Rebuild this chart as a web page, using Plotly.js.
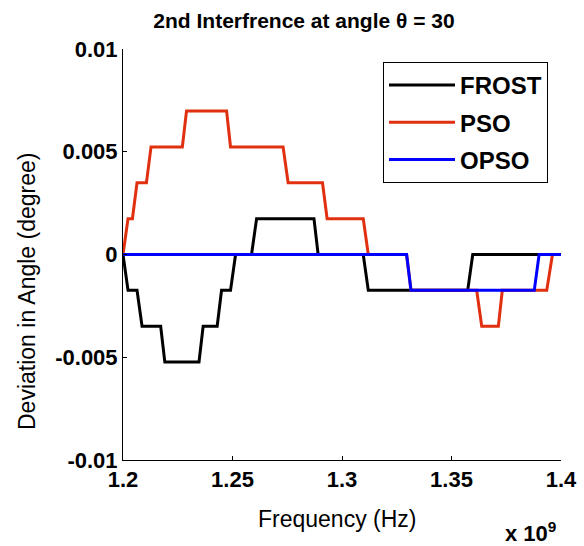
<!DOCTYPE html>
<html>
<head>
<meta charset="utf-8">
<script src="https://cdn.plot.ly/plotly-3.0.1.min.js"></script>
<style>html,body{margin:0;padding:0;background:#fff;}#chart{width:584px;height:546px;}</style>
</head>
<body>
<div id="chart"></div>
<script>
// ---- data (frequency in GHz, deviation in degrees) ----
var seriesNames = ['FROST', 'PSO', 'OPSO'];

var frostFreq = [1.2, 1.2023, 1.2064, 1.2087, 1.2172, 1.2191, 1.2347, 1.2366, 1.2430, 1.2450, 1.2491, 1.2514, 1.2587, 1.2610, 1.2872, 1.2891, 1.3097, 1.3120, 1.3574, 1.3597, 1.4];
var frostDev  = [0, -0.001745, -0.001745, -0.00349, -0.00349, -0.005236, -0.005236, -0.00349, -0.00349, -0.001745, -0.001745, 0, 0, 0.001745, 0.001745, 0, 0, -0.001745, -0.001745, 0, 0];

var psoFreq = [1.2, 1.2023, 1.2043, 1.2064, 1.2107, 1.2128, 1.2271, 1.2290, 1.2473, 1.2491, 1.2731, 1.2754, 1.2911, 1.2932, 1.3097, 1.3120, 1.3295, 1.3315, 1.3615, 1.3638, 1.3714, 1.3732, 1.3935, 1.3961, 1.4];
var psoDev  = [0, 0.001745, 0.001745, 0.00349, 0.00349, 0.005236, 0.005236, 0.006981, 0.006981, 0.005236, 0.005236, 0.00349, 0.00349, 0.001745, 0.001745, 0, 0, -0.001745, -0.001745, -0.00349, -0.00349, -0.001745, -0.001745, 0, 0];

var opsoFreq = [1.2, 1.3295, 1.3315, 1.3878, 1.3900, 1.4];
var opsoDev  = [0, 0, -0.001745, -0.001745, 0, 0];

var xTickVals = [1.2, 1.25, 1.3, 1.35, 1.4];
var xTickText = ['1.2', '1.25', '1.3', '1.35', '1.4'];
var yTickVals = [0.01, 0.005, 0, -0.005, -0.01];
var yTickText = ['0.01', '0.005', '0', '-0.005', '-0.01'];

var titleText = '2nd Interfrence at angle \u03b8 = 30';
var xLabel = 'Frequency (Hz)';
var yLabel = 'Deviation in Angle (degree)';
var xExponent = 'x 10<sup>9</sup>';

// ---- rendering ----
function toHz(a) { return a.map(function (v) { return v * 1e9; }); }
var FONT = '"Liberation Sans", Arial, sans-serif';
var colors = ['#000000', '#e03010', '#0000ff'];
var xs = [frostFreq, psoFreq, opsoFreq];
var ys = [frostDev, psoDev, opsoDev];

var traces = seriesNames.map(function (n, i) {
  return {
    x: toHz(xs[i]), y: ys[i], name: n, type: 'scatter', mode: 'lines',
    line: { color: colors[i], width: 3 }, legendgroup: 'g' + i
  };
});

var L = 123, R = 23, T = 49, B = 86, W = 584, H = 546;
var pw = W - L - R, ph = H - T - B;
function px(x) { return (x - L) / pw; }
function py(y) { return (H - B - y) / ph; }

var layout = {
  width: W, height: H,
  margin: { l: L, r: R, t: T, b: B, pad: 0 },
  paper_bgcolor: '#fff', plot_bgcolor: '#fff',
  font: { family: FONT, color: '#000' },
  title: {
    text: '<b>' + titleText + '</b>',
    font: { family: FONT, size: 21, color: '#000' },
    xref: 'container', yref: 'container',
    x: 304 / W, xanchor: 'center', y: 1 - 21 / H, yanchor: 'middle'
  },
  xaxis: {
    range: [1.2e9, 1.4e9], tickvals: toHz(xTickVals), ticktext: xTickText,
    showline: true, linecolor: '#000', linewidth: 1, mirror: false,
    ticks: 'inside', ticklen: 4, tickcolor: '#000', showgrid: false, zeroline: false,
    tickfont: { family: FONT, size: 22, color: '#000', weight: 'bold' }
  },
  yaxis: {
    range: [-0.01, 0.01], tickvals: yTickVals, ticktext: yTickText,
    showline: true, linecolor: '#000', linewidth: 1, mirror: false,
    ticks: 'inside', ticklen: 4, tickcolor: '#000', showgrid: false, zeroline: false,
    tickfont: { family: FONT, size: 22, color: '#000', weight: 'bold' }
  },
  legend: {
    x: px(383), xanchor: 'left', y: py(62), yanchor: 'top',
    bgcolor: '#fff', bordercolor: '#000', borderwidth: 1,
    font: { family: FONT, size: 24, color: '#000', weight: 'bold' },
    traceorder: 'grouped', tracegroupgap: 3, itemwidth: 66
  },
  showlegend: true,
  annotations: [
    { text: xLabel, xref: 'paper', yref: 'paper', x: px(337), y: py(519),
      xanchor: 'center', yanchor: 'middle', showarrow: false,
      font: { family: FONT, size: 23, color: '#000' } },
    { text: yLabel, xref: 'paper', yref: 'paper', x: px(27), y: py(292),
      xanchor: 'center', yanchor: 'middle', showarrow: false, textangle: -90,
      font: { family: FONT, size: 23, color: '#000' } },
    { text: '<b>' + xExponent + '</b>', xref: 'paper', yref: 'paper', x: px(503), y: py(532),
      xanchor: 'left', yanchor: 'middle', showarrow: false,
      font: { family: FONT, size: 22, color: '#000' } }
  ]
};

Plotly.newPlot('chart', traces, layout, { displayModeBar: false, staticPlot: true });
</script>
</body>
</html>
